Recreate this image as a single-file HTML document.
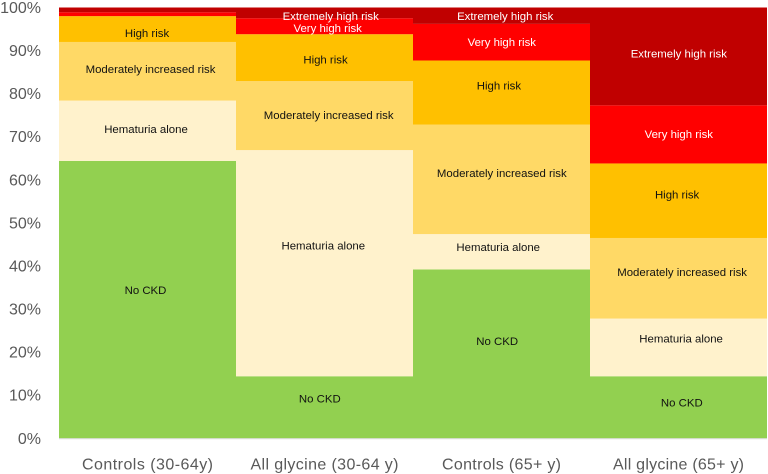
<!DOCTYPE html>
<html lang="en">
<head>
<meta charset="utf-8">
<title>CKD risk by group</title>
<style>
html,body{margin:0;padding:0;background:#fff;width:768px;height:474px;overflow:hidden}
svg{display:block}
text{font-family:"Liberation Sans",sans-serif}
.soft{filter:blur(0.25px)}
</style>
</head>
<body>
<svg id="chart" width="768" height="474" viewBox="0 0 768 474" xmlns="http://www.w3.org/2000/svg"></svg>
<script>
const categories = ["Controls (30-64y)", "All glycine (30-64 y)", "Controls (65+ y)", "All glycine (65+ y)"];
const seriesNames = ["No CKD", "Hematuria alone", "Moderately increased risk", "High risk", "Very high risk", "Extremely high risk"];
const noCkd = [64.4, 14.4, 39.2, 14.4];
const hematuriaAlone = [14.0, 52.5, 8.2, 13.4];
const moderatelyIncreased = [13.6, 16.0, 25.4, 18.7];
const highRisk = [6.0, 10.9, 14.9, 17.3];
const veryHighRisk = [0.9, 3.7, 8.5, 13.5];
const extremelyHighRisk = [1.1, 2.5, 3.8, 22.7];
const yTickLabels = ["0%", "10%", "20%", "30%", "40%", "50%", "60%", "70%", "80%", "90%", "100%"];
const yTickValues = [0, 10, 20, 30, 40, 50, 60, 70, 80, 90, 100];

const series = [noCkd, hematuriaAlone, moderatelyIncreased, highRisk, veryHighRisk, extremelyHighRisk];
const NS = "http://www.w3.org/2000/svg";
const svg = document.getElementById("chart");
const plot = {left: 59, right: 767, top: 7.5, bottom: 438.3};
const fills = ["#92D050", "#FFF2CC", "#FFD966", "#FFC000", "#FF0000", "#C00000"];
const inks = ["#111", "#111", "#111", "#111", "#fff", "#fff"];
/* hand placement of in-bar captions relative to the segment centre: [dx, dy] per column/series */
const captionNudge = [
  [[-2,-9.5],[-1.5,-1.6],[3,-2.2],[-.5,3.8],null,null],
  [[-4.7,-8.7],[-1.2,-17.7],[4.2,-.5],[1,1.8],[3.2,2],[6.2,3]],
  [[-4.3,-13],[-3.3,-5],[.3,-6.6],[-2.6,-7],[.3,0],[3.7,.2]],
  [[3.3,-5],[2.6,-8.7],[3.6,-6.3],[-1.4,-6.3],[.3,-.3],[.3,-3]]
];
const categoryLabelWidths = [131, 148, 119, 131];
const textDrop = 1;

function yScale(v){ return plot.bottom - (v / 100) * (plot.bottom - plot.top); }
function xBand(i){
  const w = (plot.right - plot.left) / categories.length;
  return {x: plot.left + i * w, w: w};
}
function slug(s){ return s.toLowerCase().replace(/[^a-z0-9]+/g, "-").replace(/^-|-$/g, ""); }
function make(tag, attrs, parent){
  const el = document.createElementNS(NS, tag);
  for (const k in attrs) el.setAttribute(k, attrs[k]);
  (parent || svg).appendChild(el);
  return el;
}

/* bars */
categories.forEach(function(cat, c){
  const band = xBand(c);
  const g = make("g", {});
  
  
  let cum = 0;
  series.forEach(function(vals, s){
    const v = vals[c];
    const y0 = yScale(cum), y1 = yScale(cum + v);
    const r = make("rect", {x: band.x, y: y1, width: band.w, height: y0 - y1, fill: fills[s]}, g);
    
    
    cum += v;
  });
});

/* captions */
categories.forEach(function(cat, c){
  const band = xBand(c);
  let cum = 0;
  series.forEach(function(vals, s){
    const v = vals[c];
    const nudge = captionNudge[c][s];
    if (nudge) {
      const cy = (yScale(cum) + yScale(cum + v)) / 2;
      const t = make("text", {
        x: band.x + band.w / 2 + nudge[0], y: cy + nudge[1] + textDrop,
        "text-anchor": "middle", "dominant-baseline": "central",
        "font-size": "11.4", fill: inks[s], "class": "soft"
      });
      
      
      t.textContent = seriesNames[s];
    }
    cum += v;
  });
});

/* axis baseline */
const axisLine = make("line", {x1: plot.left, x2: plot.right, y1: plot.bottom + .5, y2: plot.bottom + .5, stroke: "#d9d9d9", "stroke-width": 1});



/* y ticks */
yTickValues.forEach(function(v, i){
  const t = make("text", {
    x: 41, y: yScale(v) + textDrop, "text-anchor": "end", "dominant-baseline": "central",
    "font-size": "16", fill: "#595959", "class": "soft"
  });
  
  
  t.textContent = yTickLabels[i];
});

/* x labels */
categories.forEach(function(cat, c){
  const band = xBand(c);
  const t = make("text", {
    x: band.x + band.w / 2, y: 464 + textDrop, "text-anchor": "middle", "dominant-baseline": "central",
    "font-size": "16", fill: "#595959", textLength: categoryLabelWidths[c], lengthAdjust: "spacing", "class": "soft"
  });
  
  
  t.textContent = cat;
});
</script>
</body>
</html>
